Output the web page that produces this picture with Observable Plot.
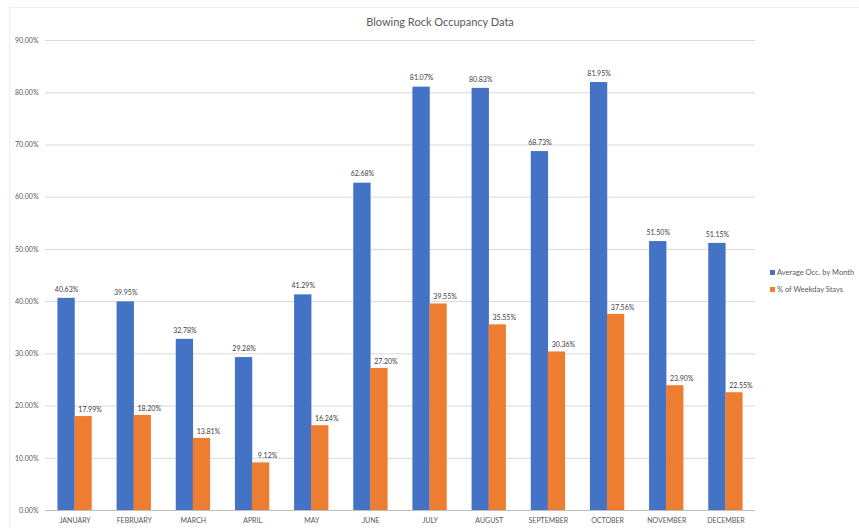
<!DOCTYPE html>
<html>
<head>
<meta charset="utf-8">
<script src="https://cdn.jsdelivr.net/npm/d3@7"></script>
<script src="https://cdn.jsdelivr.net/npm/@observablehq/plot@0.6"></script>
<style>
  body { margin: 0; background: #fff; font-family: Lato, "Open Sans", sans-serif; }
  #wrap { position: relative; width: 859px; height: 528px; overflow: hidden; }
  #title { position: absolute; left: 0; width: 880px; top: 15px; text-align: center; font-size: 11px; color: #595959; }
  #legend { position: absolute; left: 770px; top: 264px; font-size: 7.5px; color: #595959; line-height: 17px; }
  #legend span.sw { display: inline-block; width: 5px; height: 5px; margin-right: 2px; vertical-align: 0px; }
  #frame { position: absolute; left: 9px; top: 7px; width: 860px; height: 540px; border: 1px solid #eee; }
</style>
</head>
<body>
<div id="wrap">
  <div id="frame"></div>
  <div id="chart"></div>
  <div id="title">Blowing Rock Occupancy Data</div>
  <div id="legend"></div>
</div>
<script>
const months = ["JANUARY","FEBRUARY","MARCH","APRIL","MAY","JUNE","JULY","AUGUST","SEPTEMBER","OCTOBER","NOVEMBER","DECEMBER"];
const avgOcc = [40.63, 39.95, 32.78, 29.28, 41.29, 62.68, 81.07, 80.83, 68.73, 81.95, 51.50, 51.15];
const weekdayStays = [17.99, 18.20, 13.81, 9.12, 16.24, 27.20, 39.55, 35.55, 30.36, 37.56, 23.90, 22.55];
const seriesNames = ["Average Occ. by Month", "% of Weekday Stays"];
const seriesColors = ["#4472C4", "#ED7D31"];
const yTicks = [0, 10, 20, 30, 40, 50, 60, 70, 80, 90];

const avgData = months.map((m, i) => ({month: m, series: seriesNames[0], value: avgOcc[i]}));
const wkData = months.map((m, i) => ({month: m, series: seriesNames[1], value: weekdayStays[i]}));

const half = 17;
const fmt = d => d.toFixed(2) + "%";

const chart = Plot.plot({
  width: 859,
  height: 528,
  marginTop: 40,
  marginBottom: 18,
  marginLeft: 45,
  marginRight: 104,
  style: {fontFamily: "Lato, 'Open Sans', sans-serif", color: "#595959", background: "transparent"},
  x: {domain: months, paddingInner: 0.42, paddingOuter: 0.21, round: false, label: null, tickSize: 0, tickPadding: 8},
  y: {domain: [0, 90], ticks: yTicks, tickFormat: fmt, label: null, tickSize: 0, tickPadding: 7},
  color: {domain: seriesNames, range: seriesColors},
  marks: [
    Plot.gridY(yTicks, {stroke: "#d9d9d9", strokeOpacity: 1}),
    Plot.barY(avgData, {x: "month", y: "value", fill: "series", insetRight: half}),
    Plot.barY(wkData, {x: "month", y: "value", fill: "series", insetLeft: half}),
    Plot.text(avgData, {x: "month", y: "value", text: d => fmt(d.value), dx: -half / 2, dy: -9, fontSize: 7, fill: "#404040"}),
    Plot.text(wkData, {x: "month", y: "value", text: d => fmt(d.value), dx: half / 2 + 6.5, dy: -7, fontSize: 7, fill: "#404040"}),
    Plot.ruleY([0], {stroke: "#bfbfbf"})
  ]
});
chart.querySelectorAll("g[aria-label='y-axis tick label'] text, g[aria-label='x-axis tick label'] text").forEach(t => t.setAttribute("font-size", "7"));
document.getElementById("chart").appendChild(chart);

const legend = document.getElementById("legend");
seriesNames.forEach((n, i) => {
  const row = document.createElement("div");
  const sw = document.createElement("span");
  sw.className = "sw";
  sw.style.background = seriesColors[i];
  row.appendChild(sw);
  row.appendChild(document.createTextNode(n));
  legend.appendChild(row);
});
</script>
</body>
</html>
